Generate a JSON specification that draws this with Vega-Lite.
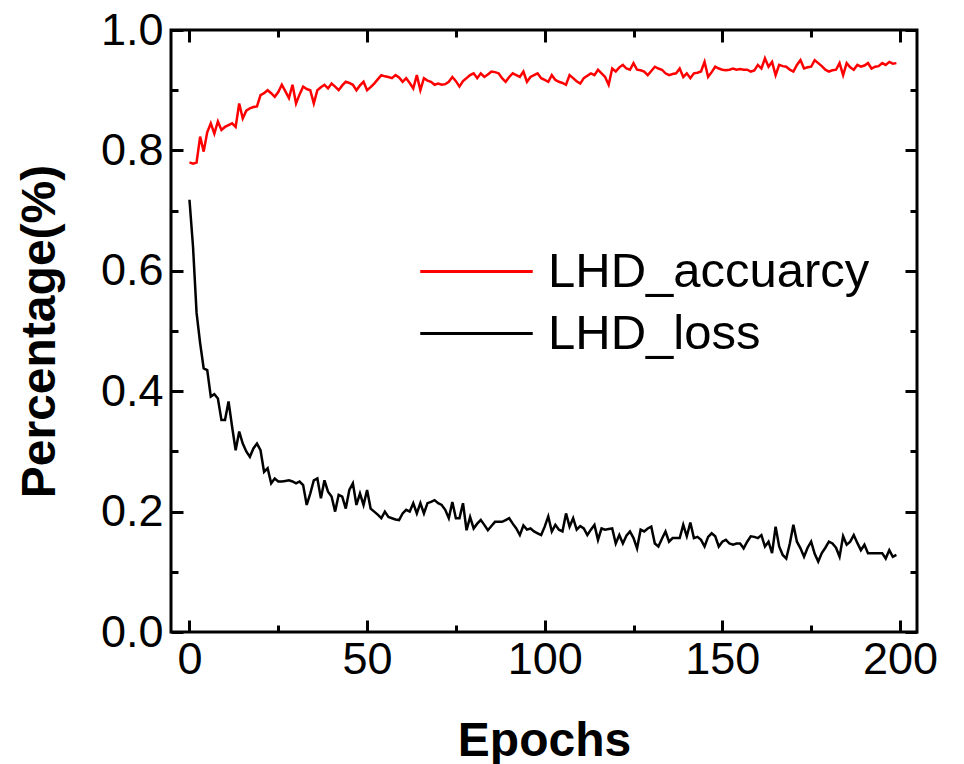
{
  "$schema": "https://vega.github.io/schema/vega-lite/v6.json",
  "width": 746,
  "height": 602,
  "autosize": {"type": "none"},
  "padding": {"left": 171, "top": 30, "right": 47, "bottom": 132},
  "background": "white",
  "config": {
    "view": {"stroke": "black", "strokeWidth": 3},
    "font": "Liberation Sans",
    "axis": {"grid": false, "domain": false, "tickColor": "black", "tickWidth": 3, "labelColor": "black", "titleColor": "black", "labelFont": "Liberation Sans", "titleFont": "Liberation Sans"}
  },
  "datasets": {
    "acc": [
      {"epoch":0,"value":0.780},{"epoch":1,"value":0.778},{"epoch":2,"value":0.780},{"epoch":3,"value":0.823},{"epoch":4,"value":0.798},{"epoch":5,"value":0.830},{"epoch":6,"value":0.845},{"epoch":7,"value":0.828},{"epoch":8,"value":0.848},{"epoch":9,"value":0.834},
      {"epoch":10,"value":0.839},{"epoch":11,"value":0.842},{"epoch":12,"value":0.845},{"epoch":13,"value":0.839},{"epoch":14,"value":0.878},{"epoch":15,"value":0.853},{"epoch":16,"value":0.866},{"epoch":17,"value":0.870},{"epoch":18,"value":0.872},{"epoch":19,"value":0.873},
      {"epoch":20,"value":0.892},{"epoch":21,"value":0.895},{"epoch":22,"value":0.900},{"epoch":23,"value":0.895},{"epoch":24,"value":0.889},{"epoch":25,"value":0.897},{"epoch":26,"value":0.909},{"epoch":27,"value":0.898},{"epoch":28,"value":0.887},{"epoch":29,"value":0.909},
      {"epoch":30,"value":0.878},{"epoch":31,"value":0.893},{"epoch":32,"value":0.906},{"epoch":33,"value":0.902},{"epoch":34,"value":0.900},{"epoch":35,"value":0.878},{"epoch":36,"value":0.900},{"epoch":37,"value":0.905},{"epoch":38,"value":0.909},{"epoch":39,"value":0.903},
      {"epoch":40,"value":0.911},{"epoch":41,"value":0.906},{"epoch":42,"value":0.900},{"epoch":43,"value":0.908},{"epoch":44,"value":0.914},{"epoch":45,"value":0.912},{"epoch":46,"value":0.909},{"epoch":47,"value":0.900},{"epoch":48,"value":0.908},{"epoch":49,"value":0.914},
      {"epoch":50,"value":0.900},{"epoch":51,"value":0.905},{"epoch":52,"value":0.911},{"epoch":53,"value":0.918},{"epoch":54,"value":0.925},{"epoch":55,"value":0.923},{"epoch":56,"value":0.922},{"epoch":57,"value":0.920},{"epoch":58,"value":0.925},{"epoch":59,"value":0.921},
      {"epoch":60,"value":0.914},{"epoch":61,"value":0.920},{"epoch":62,"value":0.912},{"epoch":63,"value":0.903},{"epoch":64,"value":0.925},{"epoch":65,"value":0.900},{"epoch":66,"value":0.920},{"epoch":67,"value":0.916},{"epoch":68,"value":0.914},{"epoch":69,"value":0.909},
      {"epoch":70,"value":0.911},{"epoch":71,"value":0.909},{"epoch":72,"value":0.910},{"epoch":73,"value":0.914},{"epoch":74,"value":0.922},{"epoch":75,"value":0.915},{"epoch":76,"value":0.906},{"epoch":77,"value":0.915},{"epoch":78,"value":0.920},{"epoch":79,"value":0.925},
      {"epoch":80,"value":0.928},{"epoch":81,"value":0.920},{"epoch":82,"value":0.928},{"epoch":83,"value":0.922},{"epoch":84,"value":0.926},{"epoch":85,"value":0.931},{"epoch":86,"value":0.930},{"epoch":87,"value":0.928},{"epoch":88,"value":0.920},{"epoch":89,"value":0.914},
      {"epoch":90,"value":0.922},{"epoch":91,"value":0.928},{"epoch":92,"value":0.925},{"epoch":93,"value":0.922},{"epoch":94,"value":0.931},{"epoch":95,"value":0.914},{"epoch":96,"value":0.922},{"epoch":97,"value":0.925},{"epoch":98,"value":0.928},{"epoch":99,"value":0.920},
      {"epoch":100,"value":0.917},{"epoch":101,"value":0.914},{"epoch":102,"value":0.925},{"epoch":103,"value":0.917},{"epoch":104,"value":0.914},{"epoch":105,"value":0.912},{"epoch":106,"value":0.909},{"epoch":107,"value":0.925},{"epoch":108,"value":0.920},{"epoch":109,"value":0.915},
      {"epoch":110,"value":0.911},{"epoch":111,"value":0.920},{"epoch":112,"value":0.924},{"epoch":113,"value":0.928},{"epoch":114,"value":0.925},{"epoch":115,"value":0.934},{"epoch":116,"value":0.928},{"epoch":117,"value":0.922},{"epoch":118,"value":0.909},{"epoch":119,"value":0.936},
      {"epoch":120,"value":0.931},{"epoch":121,"value":0.938},{"epoch":122,"value":0.942},{"epoch":123,"value":0.936},{"epoch":124,"value":0.934},{"epoch":125,"value":0.945},{"epoch":126,"value":0.934},{"epoch":127,"value":0.933},{"epoch":128,"value":0.931},{"epoch":129,"value":0.925},
      {"epoch":130,"value":0.932},{"epoch":131,"value":0.939},{"epoch":132,"value":0.936},{"epoch":133,"value":0.934},{"epoch":134,"value":0.928},{"epoch":135,"value":0.925},{"epoch":136,"value":0.927},{"epoch":137,"value":0.928},{"epoch":138,"value":0.936},{"epoch":139,"value":0.922},
      {"epoch":140,"value":0.928},{"epoch":141,"value":0.920},{"epoch":142,"value":0.928},{"epoch":143,"value":0.929},{"epoch":144,"value":0.931},{"epoch":145,"value":0.947},{"epoch":146,"value":0.922},{"epoch":147,"value":0.930},{"epoch":148,"value":0.939},{"epoch":149,"value":0.936},
      {"epoch":150,"value":0.934},{"epoch":151,"value":0.933},{"epoch":152,"value":0.934},{"epoch":153,"value":0.936},{"epoch":154,"value":0.934},{"epoch":155,"value":0.935},{"epoch":156,"value":0.934},{"epoch":157,"value":0.934},{"epoch":158,"value":0.931},{"epoch":159,"value":0.933},
      {"epoch":160,"value":0.942},{"epoch":161,"value":0.936},{"epoch":162,"value":0.953},{"epoch":163,"value":0.939},{"epoch":164,"value":0.947},{"epoch":165,"value":0.925},{"epoch":166,"value":0.942},{"epoch":167,"value":0.940},{"epoch":168,"value":0.939},{"epoch":169,"value":0.934},
      {"epoch":170,"value":0.931},{"epoch":171,"value":0.942},{"epoch":172,"value":0.950},{"epoch":173,"value":0.936},{"epoch":174,"value":0.938},{"epoch":175,"value":0.939},{"epoch":176,"value":0.950},{"epoch":177,"value":0.945},{"epoch":178,"value":0.940},{"epoch":179,"value":0.934},
      {"epoch":180,"value":0.931},{"epoch":181,"value":0.933},{"epoch":182,"value":0.934},{"epoch":183,"value":0.945},{"epoch":184,"value":0.925},{"epoch":185,"value":0.945},{"epoch":186,"value":0.938},{"epoch":187,"value":0.934},{"epoch":188,"value":0.942},{"epoch":189,"value":0.939},
      {"epoch":190,"value":0.941},{"epoch":191,"value":0.945},{"epoch":192,"value":0.936},{"epoch":193,"value":0.939},{"epoch":194,"value":0.940},{"epoch":195,"value":0.945},{"epoch":196,"value":0.942},{"epoch":197,"value":0.947},{"epoch":198,"value":0.944},{"epoch":199,"value":0.945}
    ],
    "loss": [
      {"epoch":0,"value":0.718},{"epoch":1,"value":0.640},{"epoch":2,"value":0.530},{"epoch":3,"value":0.480},{"epoch":4,"value":0.438},{"epoch":5,"value":0.435},{"epoch":6,"value":0.391},{"epoch":7,"value":0.395},{"epoch":8,"value":0.388},{"epoch":9,"value":0.352},
      {"epoch":10,"value":0.352},{"epoch":11,"value":0.383},{"epoch":12,"value":0.341},{"epoch":13,"value":0.302},{"epoch":14,"value":0.333},{"epoch":15,"value":0.313},{"epoch":16,"value":0.300},{"epoch":17,"value":0.291},{"epoch":18,"value":0.305},{"epoch":19,"value":0.313},
      {"epoch":20,"value":0.302},{"epoch":21,"value":0.266},{"epoch":22,"value":0.272},{"epoch":23,"value":0.247},{"epoch":24,"value":0.255},{"epoch":25,"value":0.250},{"epoch":26,"value":0.250},{"epoch":27,"value":0.251},{"epoch":28,"value":0.252},{"epoch":29,"value":0.250},
      {"epoch":30,"value":0.247},{"epoch":31,"value":0.250},{"epoch":32,"value":0.244},{"epoch":33,"value":0.211},{"epoch":34,"value":0.230},{"epoch":35,"value":0.252},{"epoch":36,"value":0.255},{"epoch":37,"value":0.222},{"epoch":38,"value":0.252},{"epoch":39,"value":0.233},
      {"epoch":40,"value":0.225},{"epoch":41,"value":0.200},{"epoch":42,"value":0.228},{"epoch":43,"value":0.225},{"epoch":44,"value":0.205},{"epoch":45,"value":0.236},{"epoch":46,"value":0.247},{"epoch":47,"value":0.211},{"epoch":48,"value":0.230},{"epoch":49,"value":0.211},
      {"epoch":50,"value":0.236},{"epoch":51,"value":0.205},{"epoch":52,"value":0.200},{"epoch":53,"value":0.195},{"epoch":54,"value":0.189},{"epoch":55,"value":0.200},{"epoch":56,"value":0.191},{"epoch":57,"value":0.189},{"epoch":58,"value":0.187},{"epoch":59,"value":0.186},
      {"epoch":60,"value":0.197},{"epoch":61,"value":0.203},{"epoch":62,"value":0.200},{"epoch":63,"value":0.214},{"epoch":64,"value":0.197},{"epoch":65,"value":0.214},{"epoch":66,"value":0.197},{"epoch":67,"value":0.214},{"epoch":68,"value":0.216},{"epoch":69,"value":0.219},
      {"epoch":70,"value":0.214},{"epoch":71,"value":0.211},{"epoch":72,"value":0.203},{"epoch":73,"value":0.189},{"epoch":74,"value":0.216},{"epoch":75,"value":0.189},{"epoch":76,"value":0.189},{"epoch":77,"value":0.214},{"epoch":78,"value":0.169},{"epoch":79,"value":0.191},
      {"epoch":80,"value":0.172},{"epoch":81,"value":0.180},{"epoch":82,"value":0.186},{"epoch":83,"value":0.178},{"epoch":84,"value":0.169},{"epoch":85,"value":0.176},{"epoch":86,"value":0.183},{"epoch":87,"value":0.183},{"epoch":88,"value":0.183},{"epoch":89,"value":0.186},
      {"epoch":90,"value":0.189},{"epoch":91,"value":0.180},{"epoch":92,"value":0.172},{"epoch":93,"value":0.161},{"epoch":94,"value":0.177},{"epoch":95,"value":0.170},{"epoch":96,"value":0.172},{"epoch":97,"value":0.167},{"epoch":98,"value":0.164},{"epoch":99,"value":0.161},
      {"epoch":100,"value":0.175},{"epoch":101,"value":0.192},{"epoch":102,"value":0.167},{"epoch":103,"value":0.178},{"epoch":104,"value":0.170},{"epoch":105,"value":0.167},{"epoch":106,"value":0.197},{"epoch":107,"value":0.175},{"epoch":108,"value":0.189},{"epoch":109,"value":0.170},
      {"epoch":110,"value":0.176},{"epoch":111,"value":0.172},{"epoch":112,"value":0.161},{"epoch":113,"value":0.170},{"epoch":114,"value":0.178},{"epoch":115,"value":0.153},{"epoch":116,"value":0.172},{"epoch":117,"value":0.170},{"epoch":118,"value":0.171},{"epoch":119,"value":0.172},
      {"epoch":120,"value":0.147},{"epoch":121,"value":0.161},{"epoch":122,"value":0.147},{"epoch":123,"value":0.160},{"epoch":124,"value":0.167},{"epoch":125,"value":0.156},{"epoch":126,"value":0.139},{"epoch":127,"value":0.170},{"epoch":128,"value":0.167},{"epoch":129,"value":0.172},
      {"epoch":130,"value":0.175},{"epoch":131,"value":0.147},{"epoch":132,"value":0.142},{"epoch":133,"value":0.155},{"epoch":134,"value":0.167},{"epoch":135,"value":0.150},{"epoch":136,"value":0.156},{"epoch":137,"value":0.156},{"epoch":138,"value":0.156},{"epoch":139,"value":0.178},
      {"epoch":140,"value":0.159},{"epoch":141,"value":0.182},{"epoch":142,"value":0.156},{"epoch":143,"value":0.158},{"epoch":144,"value":0.153},{"epoch":145,"value":0.142},{"epoch":146,"value":0.158},{"epoch":147,"value":0.164},{"epoch":148,"value":0.159},{"epoch":149,"value":0.142},
      {"epoch":150,"value":0.150},{"epoch":151,"value":0.153},{"epoch":152,"value":0.147},{"epoch":153,"value":0.145},{"epoch":154,"value":0.147},{"epoch":155,"value":0.147},{"epoch":156,"value":0.139},{"epoch":157,"value":0.150},{"epoch":158,"value":0.159},{"epoch":159,"value":0.158},
      {"epoch":160,"value":0.156},{"epoch":161,"value":0.161},{"epoch":162,"value":0.142},{"epoch":163,"value":0.150},{"epoch":164,"value":0.131},{"epoch":165,"value":0.175},{"epoch":166,"value":0.142},{"epoch":167,"value":0.128},{"epoch":168,"value":0.122},{"epoch":169,"value":0.147},
      {"epoch":170,"value":0.178},{"epoch":171,"value":0.150},{"epoch":172,"value":0.139},{"epoch":173,"value":0.125},{"epoch":174,"value":0.140},{"epoch":175,"value":0.150},{"epoch":176,"value":0.130},{"epoch":177,"value":0.117},{"epoch":178,"value":0.131},{"epoch":179,"value":0.140},
      {"epoch":180,"value":0.150},{"epoch":181,"value":0.147},{"epoch":182,"value":0.140},{"epoch":183,"value":0.125},{"epoch":184,"value":0.159},{"epoch":185,"value":0.145},{"epoch":186,"value":0.150},{"epoch":187,"value":0.161},{"epoch":188,"value":0.148},{"epoch":189,"value":0.136},
      {"epoch":190,"value":0.145},{"epoch":191,"value":0.131},{"epoch":192,"value":0.131},{"epoch":193,"value":0.131},{"epoch":194,"value":0.131},{"epoch":195,"value":0.131},{"epoch":196,"value":0.122},{"epoch":197,"value":0.136},{"epoch":198,"value":0.125},{"epoch":199,"value":0.128}
    ]
  },
  "layer": [
    {
      "data": {"name": "acc"},
      "transform": [{"calculate": "'LHD_accuarcy'", "as": "series"}],
      "mark": {"type": "line", "strokeWidth": 2.5},
      "encoding": {
        "x": {"field": "epoch", "type": "quantitative", "scale": {"domain": [-5.2, 204.8], "nice": false, "zero": false},
          "axis": {"orient": "bottom", "values": [0, 50, 100, 150, 200], "tickSize": -12, "labelFontSize": 45, "labelPadding": 17, "title": "Epochs", "titleFontSize": 48, "titleFontWeight": "bold", "titlePadding": 35}},
        "y": {"field": "value", "type": "quantitative", "scale": {"domain": [0, 1], "nice": false, "zero": false},
          "axis": {"orient": "left", "values": [0, 0.2, 0.4, 0.6, 0.8, 1.0], "format": ".1f", "tickSize": -12, "labelFontSize": 45, "labelPadding": 20, "title": "Percentage(%)", "titleFontSize": 48, "titleFontWeight": "bold", "titlePadding": 36}},
        "color": {"field": "series", "type": "nominal", "scale": {"domain": ["LHD_accuarcy", "LHD_loss"], "range": ["#ff0000", "#000000"]},
          "legend": {"orient": "none", "legendX": 281, "legendY": 217, "title": null, "symbolType": "M-2.5,0H2.5", "symbolSize": 2025, "symbolStrokeWidth": 3, "symbolFillColor": "transparent", "labelFontSize": 49, "labelFont": "Liberation Sans", "labelColor": "black", "labelOffset": 47, "labelLimit": 0, "rowPadding": 12}}
      }
    },
    {
      "data": {"name": "loss"},
      "transform": [{"calculate": "'LHD_loss'", "as": "series"}],
      "mark": {"type": "line", "strokeWidth": 2.5},
      "encoding": {
        "x": {"field": "epoch", "type": "quantitative", "scale": {"domain": [-5.2, 204.8], "nice": false, "zero": false}, "axis": null},
        "y": {"field": "value", "type": "quantitative", "scale": {"domain": [0, 1], "nice": false, "zero": false}, "axis": null},
        "color": {"field": "series", "type": "nominal", "scale": {"domain": ["LHD_accuarcy", "LHD_loss"], "range": ["#ff0000", "#000000"]}}
      }
    },
    {
      "data": {"name": "acc"},
      "mark": {"type": "point", "opacity": 0},
      "encoding": {
        "x": {"field": "epoch", "type": "quantitative", "scale": {"domain": [-5.2, 204.8], "nice": false, "zero": false},
          "axis": {"orient": "top", "values": [0, 50, 100, 150, 200], "tickSize": -12, "labels": false, "title": null}},
        "y": {"field": "value", "type": "quantitative", "scale": {"domain": [0, 1], "nice": false, "zero": false},
          "axis": {"orient": "right", "values": [0, 0.2, 0.4, 0.6, 0.8, 1.0], "tickSize": -12, "labels": false, "title": null}}
      }
    },
    {
      "data": {"name": "acc"},
      "mark": {"type": "point", "opacity": 0},
      "encoding": {
        "x": {"field": "epoch", "type": "quantitative", "scale": {"domain": [-5.2, 204.8], "nice": false, "zero": false},
          "axis": {"orient": "bottom", "values": [25, 75, 125, 175], "tickSize": -7, "labels": false, "title": null}},
        "y": {"field": "value", "type": "quantitative", "scale": {"domain": [0, 1], "nice": false, "zero": false},
          "axis": {"orient": "left", "values": [0.1, 0.3, 0.5, 0.7, 0.9], "tickSize": -7, "labels": false, "title": null}}
      }
    },
    {
      "data": {"name": "acc"},
      "mark": {"type": "point", "opacity": 0},
      "encoding": {
        "x": {"field": "epoch", "type": "quantitative", "scale": {"domain": [-5.2, 204.8], "nice": false, "zero": false},
          "axis": {"orient": "top", "values": [25, 75, 125, 175], "tickSize": -7, "labels": false, "title": null}},
        "y": {"field": "value", "type": "quantitative", "scale": {"domain": [0, 1], "nice": false, "zero": false},
          "axis": {"orient": "right", "values": [0.1, 0.3, 0.5, 0.7, 0.9], "tickSize": -7, "labels": false, "title": null}}
      }
    }
  ],
  "resolve": {"axis": {"x": "independent", "y": "independent"}}
}
